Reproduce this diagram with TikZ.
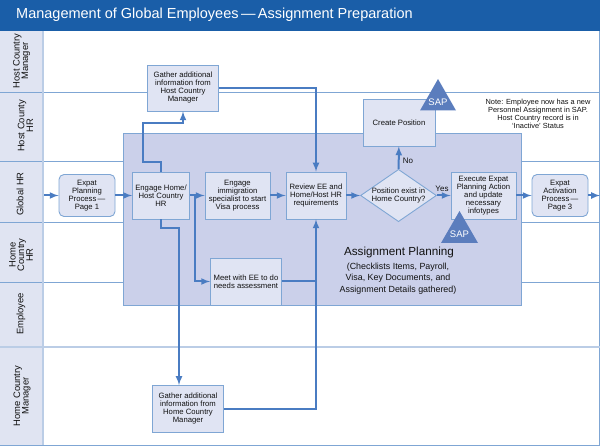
\documentclass[tikz,border=0pt]{standalone}
\usepackage{fontspec}
\setsansfont{Liberation Sans}
\usetikzlibrary{shapes.geometric}

\definecolor{bandblue}{HTML}{1A5EA8}
\definecolor{laneline}{HTML}{7FA6D4}
\definecolor{lanelight}{HTML}{BBCDE6}
\definecolor{headfill}{HTML}{E0E4F2}
\definecolor{boxfill}{HTML}{E0E4F3}
\definecolor{planfill}{HTML}{CBD0EA}
\definecolor{flowblue}{HTML}{4A7CC2}
\definecolor{sapblue}{HTML}{5B7DBD}
\definecolor{inktext}{HTML}{111111}

\tikzset{
    procbox/.style={draw=laneline, fill=boxfill, line width=.9pt, inner sep=0pt,
        align=center, text=inktext, font=\sffamily\fontsize{7.7}{8}\selectfont},
    linkbox/.style={procbox, rounded corners=5pt, minimum width=56pt, minimum height=42pt},
    flow/.style={draw=flowblue, line width=2pt, ->},
    lanelabel/.style={rotate=90, align=center, text=inktext,
        font=\sffamily\fontsize{9.4}{8.6}\selectfont},
    saptext/.style={text=white, font=\sffamily\fontsize{9.5}{10}\selectfont},
    choice/.style={text=inktext, font=\sffamily\fontsize{8}{8}\selectfont, inner sep=0pt}
}

\begin{document}
\begin{tikzpicture}[x=1pt, y=-1pt, >=latex]
    \useasboundingbox (0,0) rectangle (600,446);

    % Kopf
    \fill [bandblue] (0,0) rectangle (600,31);
    \node (title) [anchor=west, text=white, inner sep=0pt,
        font=\sffamily\fontsize{14.5}{15}\selectfont] at (16,15)
        {Management of Global Employees\,---\,Assignment Preparation};

    % Bahnen
    \fill [headfill] (0,31) rectangle (43,445);
    \draw [laneline] (0,92) -- (600,92)
                     (0,161) -- (123,161) (521,161) -- (600,161)
                     (0,222) -- (123,222) (521,222) -- (600,222)
                     (0,282) -- (123,282) (521,282) -- (600,282)
                     (0,445.5) -- (600,445.5)
                     (599.5,31) -- (599.5,446);
    \draw [lanelight, line width=1.2pt] (0,347) -- (600,347) (43,31) -- (43,445);

    \node (lanehostmgr) [lanelabel] at (21.5,61) {Host Country\\Manager};
    \node (lanehosthr) [lanelabel] at (25.5,126) {Host County\\HR};
    \node (laneglobal) [lanelabel] at (20,194) {Global HR};
    \node (lanehomehr) [lanelabel] at (21,255) {Home\\Country\\HR};
    \node (laneemp) [lanelabel] at (21,314) {Employee};
    \node (lanehomemgr) [lanelabel] at (22,396) {Home Country\\Manager};

    % Planung
    \draw [laneline, fill=planfill, line width=.9pt] (123,133) rectangle (521,305);

    % Kästen
    \node (expatone) [linkbox] at (87,195.5) {Expat\\Planning\\Process\,---\\Page 1};
    \node (engagehr) [procbox, minimum width=57pt, minimum height=47pt] at (161,195.5)
        {Engage Home/\\Host Country\\HR};
    \node (engagevisa) [procbox, minimum width=65pt, minimum height=47pt] at (237.5,195.5)
        {Engage\\immigration\\specialist to start\\Visa process};
    \node (review) [procbox, minimum width=60pt, minimum height=47pt] at (316,195.5)
        {Review EE and\\Home/Host HR\\requirements};
    \node (posexist) [draw=laneline, fill=boxfill, line width=.9pt, shape=diamond,
        shape aspect=1.45, inner sep=0pt, align=center, text=inktext,
        font=\sffamily\fontsize{7.7}{8}\selectfont] at (398.5,195.5)
        {Position exist in\\Home Country?};
    \node (createpos) [procbox, minimum width=72pt, minimum height=47pt] at (399,122.5)
        {Create Position};
    \node (execute) [procbox, minimum width=65pt, minimum height=47pt] at (483.5,195.5)
        {Execute Expat\\Planning Action\\and update\\necessary\\infotypes};
    \node (expatthree) [linkbox] at (560,195.5) {Expat\\Activation\\Process\,---\\Page 3};
    \node (meet) [procbox, minimum width=71pt, minimum height=47pt] at (246,281.5)
        {Meet with EE to do\\needs assessment};
    \node (gatherhost) [procbox, minimum width=71pt, minimum height=46pt] at (183,88)
        {Gather additional\\information from\\Host Country\\Manager};
    \node (gatherhome) [procbox, minimum width=71pt, minimum height=47pt] at (188,409)
        {Gather additional\\information from\\Home Country\\Manager};

    % Knickpunkte
    \coordinate (startin) at (44,195.5);
    \coordinate (endout) at (600,195.5);
    \coordinate (upone) at (143,162);
    \coordinate (uptwo) at (143,123);
    \coordinate (downbend) at (179,228);
    \coordinate (split) at (194.5,195.5);

    % Leiter
    \draw [flow] (startin) -- (expatone);
    \draw [flow] (expatone) -- (engagehr);
    \draw [flow] (engagehr) -- (engagevisa);
    \draw [flow] (engagevisa) -- (review);
    \draw [flow] (review) -- (posexist);
    \draw [flow] (posexist) -- (execute);
    \draw [flow] (execute) -- (expatthree);
    \draw [flow] (expatthree) -- (endout);
    \draw [flow] (posexist) -- (createpos);
    \draw [flow] (engagehr.north) |- (upone) -- (uptwo) -| (gatherhost.south);
    \draw [flow] (engagehr.south) |- (downbend) -- (downbend |- gatherhome.north);
    \draw [flow] (split) |- (meet.west);
    \draw [flow] (gatherhost.east) -| (review.north);
    \draw [flow] (gatherhome.east) -| (review.south);
    \draw [draw=flowblue, line width=2pt] (meet.east) -- (review.south |- meet.east);

    \node (labelno) [choice] at (408,161) {No};
    \node (labelyes) [choice] at (442,189) {Yes};

    % SAP
    \fill [sapblue] (438,79) -- (420,110.5) -- (456,110.5) -- cycle;
    \node (saptop) [saptext] at (438,102) {SAP};
    \fill [sapblue] (459.5,211) -- (441,243) -- (478,243) -- cycle;
    \node (sapbottom) [saptext] at (459.5,234) {SAP};

    % Texte
    \node (note) [align=center, text=inktext, inner sep=0pt,
        font=\sffamily\fontsize{7.4}{8}\selectfont] at (538,114)
        {Note: Employee now has a new\\Personnel Assignment in SAP.\\Host Country record is in\\`Inactive' Status};
    \node (plantitle) [text=inktext, inner sep=0pt,
        font=\sffamily\fontsize{11.7}{12}\selectfont] at (399,252.5) {Assignment Planning};
    \node (plantext) [align=center, text=inktext, inner sep=0pt,
        font=\sffamily\fontsize{8.9}{11.5}\selectfont] at (398,278.5)
        {(Checklists Items, Payroll,\\Visa, Key Documents, and\\Assignment Details gathered)};
\end{tikzpicture}
\end{document}
